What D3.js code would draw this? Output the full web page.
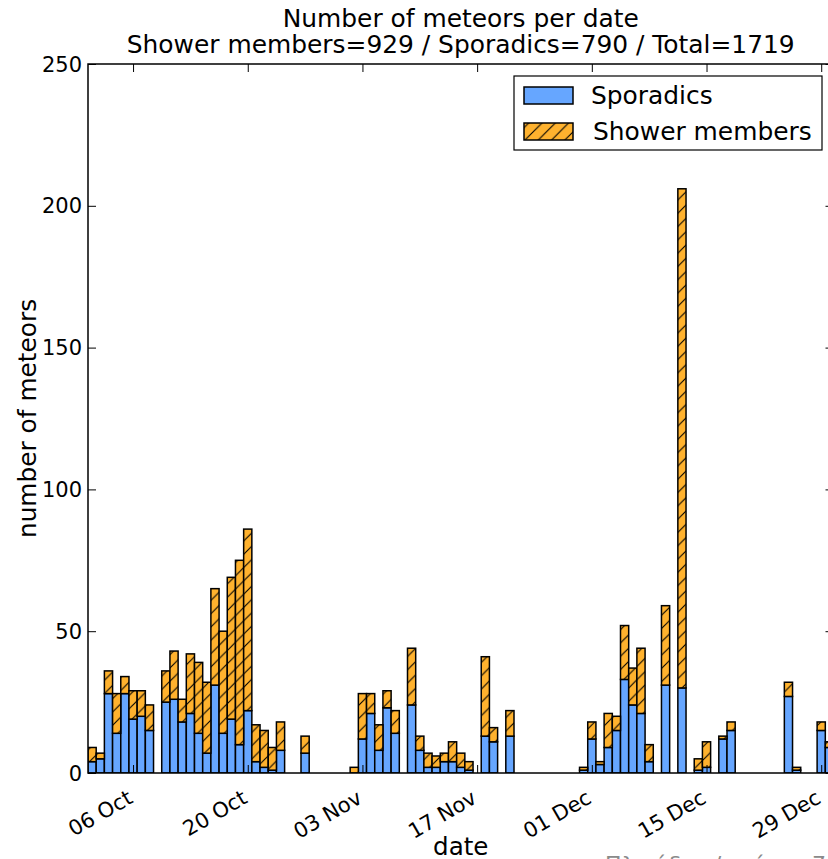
<!DOCTYPE html>
<html><head><meta charset="utf-8">
<script src="https://cdn.jsdelivr.net/npm/d3@7"></script>
<style>
body{margin:0;background:#fff;overflow:hidden}
svg{display:block}
text{font-family:"DejaVu Sans",sans-serif;fill:#000}
</style>
</head><body>
<script>
// ---- data ----
const firstDay = "2012-10-01";           // date of the first bar (one bar per day)
const sporadics = [
  4,5,28,14,28,19,20,15,0,                       // Oct 01-09
  25,26,18,21,14,7,31,14,19,10,22,4,2,1,8,       // Oct 10-24
  0,0,7,0,0,0,0,0,                               // Oct 25 - Nov 01
  0,12,21,8,23,14,0,                             // Nov 02-08
  24,8,2,2,4,4,2,1,0,                            // Nov 09-17
  13,11,0,13,                                    // Nov 18-21
  0,0,0,0,0,0,0,0,                               // Nov 22-29
  1,12,3,9,15,33,24,21,4,0,                      // Nov 30 - Dec 09
  31,0,30,0,1,2,0,12,15,                         // Dec 10-18
  0,0,0,0,0,0,                                   // Dec 19-24
  27,1,0,0,15,9                                  // Dec 25-30
];
const showerMembers = [
  5,2,8,14,6,10,9,9,0,
  11,17,8,21,25,25,34,36,50,65,64,13,13,8,10,
  0,0,6,0,0,0,0,0,
  2,16,7,9,6,8,0,
  20,5,5,4,3,7,5,3,0,
  28,5,0,9,
  0,0,0,0,0,0,0,0,
  1,6,1,12,5,19,13,23,6,0,
  28,0,176,0,4,9,0,1,3,
  0,0,0,0,0,0,
  5,1,0,0,3,2
];
const seriesNames = ["Sporadics", "Shower members"];
const yTickValues = [0, 50, 100, 150, 200, 250];
const xTickDates = ["2012-10-06","2012-10-20","2012-11-03","2012-11-17","2012-12-01","2012-12-15","2012-12-29"];
const titleLines = ["Number of meteors per date", "Shower members=929 / Sporadics=790 / Total=1719"];
const xLabel = "date", yLabel = "number of meteors";
const watermark = "Πλειάδες / τεύχος 7";

// ---- layout ----
const W = 828, H = 859;
const M = {left: 88, top: 64, right: 833.5, bottom: 773};
const colSpor = "#66a6ff", colShower = "#ffb22e";

const parse = d3.utcParse("%Y-%m-%d");
const day0 = parse(firstDay);
const days = sporadics.map((_, i) => d3.utcDay.offset(day0, i));

const x = d3.scaleUtc()
  .domain([d3.utcHour.offset(day0, -12), d3.utcHour.offset(days[days.length - 1], 12)])
  .range([M.left, M.right]);
const y = d3.scaleLinear().domain([0, 250]).range([M.bottom, M.top]);

const svg = d3.select("body").append("svg").attr("width", W).attr("height", H);
const defs = svg.append("defs");
const P = 13.3;
const pat = defs.append("pattern").attr("id", "hatch")
  .attr("patternUnits", "userSpaceOnUse").attr("width", P).attr("height", P);
pat.append("rect").attr("width", P).attr("height", P).attr("fill", colShower);
pat.append("path")
  .attr("d", `M0,${P} L${P},0 M${-P/2},${P/2} L${P/2},${-P/2} M${P/2},${P*1.5} L${P*1.5},${P/2}`)
  .attr("stroke", "#000").attr("stroke-width", 1.1);

const clip = defs.append("clipPath").attr("id", "plotclip");
clip.append("rect").attr("x", M.left).attr("y", M.top).attr("width", M.right - M.left).attr("height", M.bottom - M.top);

const barsG = svg.append("g").attr("clip-path", "url(#plotclip)");
const rows = days.map((d, i) => ({d, s: sporadics[i], m: showerMembers[i]}));
const bx = d => x(d3.utcHour.offset(d, -12));
const bw = d => x(d3.utcHour.offset(d, 12)) - x(d3.utcHour.offset(d, -12));

barsG.selectAll("rect.spor").data(rows.filter(r => r.s > 0)).join("rect")
  .attr("class", "spor")
  .attr("x", r => bx(r.d)).attr("width", r => bw(r.d))
  .attr("y", r => y(r.s)).attr("height", r => y(0) - y(r.s))
  .attr("fill", colSpor).attr("stroke", "#000").attr("stroke-width", 1.5);
barsG.selectAll("rect.show").data(rows.filter(r => r.m > 0)).join("rect")
  .attr("class", "show")
  .attr("x", r => bx(r.d)).attr("width", r => bw(r.d))
  .attr("y", r => y(r.s + r.m)).attr("height", r => y(r.s) - y(r.s + r.m))
  .attr("fill", "url(#hatch)").attr("stroke", "#000").attr("stroke-width", 1.5);

// ---- axes (ticks inward, on all four sides) ----
const tickLen = 8;
const xt = xTickDates.map(parse);
const axG = svg.append("g");
const axBottom = d3.axisBottom(x).tickValues(xt).tickSize(-tickLen).tickFormat("");
const axTop = d3.axisTop(x).tickValues(xt).tickSize(-tickLen).tickFormat("");
const axLeft = d3.axisLeft(y).tickValues(yTickValues).tickSize(-tickLen).tickFormat("");
const axRight = d3.axisRight(y).tickValues(yTickValues).tickSize(-tickLen).tickFormat("");
[[axBottom, `translate(0,${M.bottom})`], [axTop, `translate(0,${M.top})`],
 [axLeft, `translate(${M.left},0)`], [axRight, `translate(${M.right},0)`]].forEach(([a, t]) => {
  const g = axG.append("g").attr("transform", t).call(a);
  g.select(".domain").remove();
  g.selectAll(".tick line").attr("stroke", "#000").attr("stroke-width", 1);
});
svg.append("rect").attr("x", M.left).attr("y", M.top)
  .attr("width", M.right - M.left).attr("height", M.bottom - M.top)
  .attr("fill", "none").attr("stroke", "#000").attr("stroke-width", 1.5);

// tick labels
const fmt = d3.utcFormat("%d %b");
svg.append("g").selectAll("text").data(xt).join("text")
  .attr("transform", d => `translate(${x(d) + 1},${M.bottom + 29}) rotate(-30)`)
  .attr("text-anchor", "end").style("font-size", "21px").text(d => fmt(d));
svg.append("g").selectAll("text").data(yTickValues).join("text")
  .attr("x", M.left - 6).attr("y", v => y(v)).attr("dy", "0.36em")
  .attr("text-anchor", "end").style("font-size", "21px").text(v => v);

// labels & title
svg.append("text").attr("x", (M.left + M.right) / 2).attr("y", 855)
  .attr("text-anchor", "middle").style("font-size", "24.6px").text(xLabel);
svg.append("text").attr("transform", `translate(36,${(M.top + M.bottom) / 2}) rotate(-90)`)
  .attr("text-anchor", "middle").style("font-size", "24.8px").text(yLabel);
titleLines.forEach((t, i) => svg.append("text")
  .attr("x", (M.left + M.right) / 2).attr("y", 27 + i * 26)
  .attr("text-anchor", "middle").style("font-size", "24.9px").text(t));

// legend
const lg = svg.append("g");
lg.append("rect").attr("x", 514).attr("y", 76).attr("width", 308).attr("height", 74)
  .attr("fill", "#fff").attr("stroke", "#000").attr("stroke-width", 1.2);
const legendFills = [colSpor, "url(#hatch)"];
seriesNames.forEach((n, i) => {
  lg.append("rect").attr("x", 524).attr("y", 87 + i * 36).attr("width", 49).attr("height", 17)
    .attr("fill", legendFills[i]).attr("stroke", "#000").attr("stroke-width", 1.5);
  lg.append("text").attr("x", 591 + i * 2).attr("y", 104 + i * 36)
    .style("font-size", "24.9px").text(n);
});

// watermark (cut by the bottom edge)
svg.append("text").attr("x", 605).attr("y", 872).style("font-size", "22px")
  .style("fill", "#8a8a8a").text(watermark);
</script>
</body></html>
